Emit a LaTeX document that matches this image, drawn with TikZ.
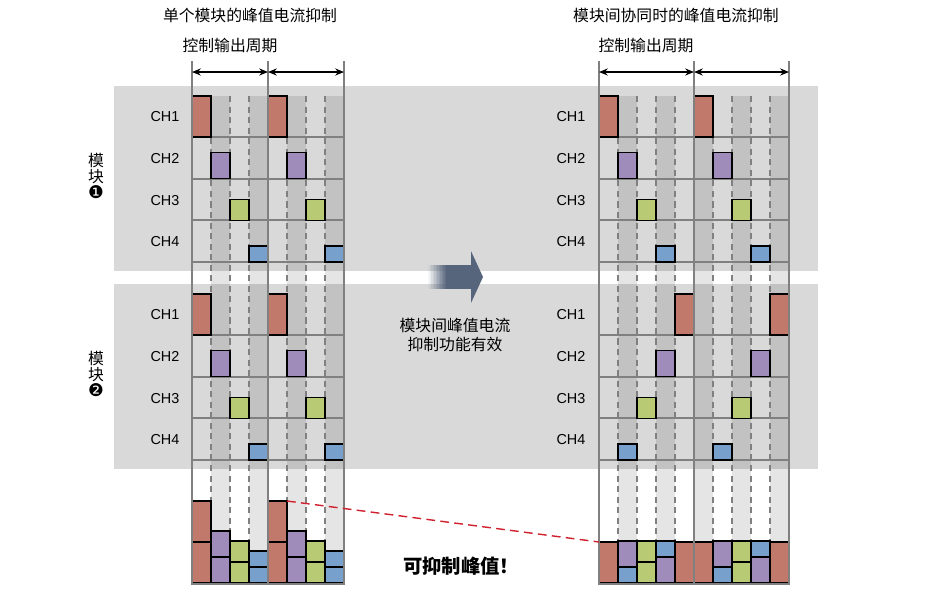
\documentclass[tikz,border=0pt]{standalone}
\usepackage{fontspec}
\setmainfont{Liberation Sans}
\newfontfamily\cjk{Noto Sans CJK SC}
\newfontfamily\dingfont{DejaVu Sans}
\usetikzlibrary{arrows.meta}

\definecolor{chred}{HTML}{C0796B}
\definecolor{chpurple}{HTML}{A08CBA}
\definecolor{chgreen}{HTML}{B8CB74}
\definecolor{chblue}{HTML}{78A0CC}
\definecolor{bandgray}{HTML}{D9D9D9}
\definecolor{linegray}{HTML}{808080}
\definecolor{arrowslate}{HTML}{56647C}
\definecolor{peakred}{HTML}{D0202E}

\begin{document}
\begin{tikzpicture}[x=0.02cm, y=-0.02cm,
    cjktext/.style={font=\cjk\fontsize{9}{11.3}\selectfont, align=center},
    chlabel/.style={font=\fontsize{8.2}{10}\selectfont},
    modlabel/.style={font=\cjk\fontsize{9}{9}\selectfont, align=center},
    pulse/.style={draw=black, line width=0.7pt},
    periodline/.style={draw=linegray, line width=1.1pt},
    slotline/.style={draw=linegray, line width=0.6pt, dash pattern=on 3.5pt off 2.5pt},
    rowline/.style={draw=linegray, line width=0.6pt},
    slotshade/.style={fill=black, opacity=0.1},
    cyclearrow/.style={{Stealth[length=5pt,width=4pt]}-{Stealth[length=5pt,width=4pt]}, line width=0.7pt},
    peakline/.style={draw=peakred, line width=0.8pt, dash pattern=on 5pt off 3pt}]
    \useasboundingbox (0,0) rectangle (944,603);

    % Module backgrounds
    \fill[bandgray] (114,86) rectangle (818,271);
    \fill[bandgray] (114,284) rectangle (818,469);

    % Shaded time slots
    \foreach \s in {1,3,5,7}
        \fill[slotshade] ({192+19*\s},96) rectangle ++(19,487);
    \foreach \s in {1,3,5,7,9}
        \fill[slotshade] ({599+19*\s},96) rectangle ++(19,487);

    % Channel row lines
    \foreach \dy in {0,198}
        \foreach \yy in {137,179,220,262} {
            \draw[rowline] (192,{\yy+\dy}) -- (344,{\yy+\dy});
            \draw[rowline] (599,{\yy+\dy}) -- (789,{\yy+\dy});
        }

    % Slot boundaries
    \foreach \s in {1,2,3,5,6,7}
        \draw[slotline] ({192+19*\s},96) -- ++(0,487);
    \foreach \s in {1,2,3,4,6,7,8,9}
        \draw[slotline] ({599+19*\s},96) -- ++(0,487);

    % Pulses, single module control (both modules alike)
    \foreach \dy in {0,198}
        \foreach \h/\col [count=\i from 0] in {41/chred,26/chpurple,21/chgreen,16/chblue}
            \foreach \p in {0,1}
                \draw[pulse, fill=\col] ({192+19*(4*\p+\i)},{137+41.67*\i+\dy}) rectangle ++(19,-\h);

    % Pulses, coordinated modules
    \foreach \h/\col [count=\i from 0] in {41/chred,26/chpurple,21/chgreen,16/chblue}
        \foreach \p in {0,1} {
            \draw[pulse, fill=\col] ({599+19*(5*\p+\i)},{137+41.67*\i}) rectangle ++(19,-\h);
            \draw[pulse, fill=\col] ({599+19*(5*\p+4-\i)},{335+41.67*\i}) rectangle ++(19,-\h);
        }

    % Summed current, left
    \foreach \h/\col [count=\i from 0] in {41/chred,26/chpurple,21/chgreen,16/chblue}
        \foreach \p in {0,1} {
            \draw[pulse, fill=\col] ({192+19*(4*\p+\i)},583) rectangle ++(19,-\h);
            \draw[pulse, fill=\col] ({192+19*(4*\p+\i)},{583-\h}) rectangle ++(19,-\h);
        }

    % Summed current, right
    \foreach \p in {0,1} {
        \foreach \s/\h/\col in {1/16/chblue,2/21/chgreen,3/26/chpurple,4/41/chred}
            \draw[pulse, fill=\col] ({599+19*(5*\p+\s)},583) rectangle ++(19,-\h);
        \foreach \s/\base/\h/\col in {0/583/41/chred,1/567/26/chpurple,2/562/21/chgreen,3/557/16/chblue}
            \draw[pulse, fill=\col] ({599+19*(5*\p+\s)},\base) rectangle ++(19,-\h);
    }
    \draw[periodline] (192,584) -- (344,584);
    \draw[periodline] (599,584) -- (789,584);

    % Period boundaries
    \foreach \x in {192,268,344}
        \draw[periodline] (\x,61) -- (\x,585);
    \foreach \x in {599,694,789}
        \draw[periodline] (\x,61) -- (\x,585);

    % Control period arrows
    \coordinate (L0) at (192,72);
    \coordinate (L1) at (268,72);
    \coordinate (L2) at (344,72);
    \coordinate (R0) at (599,72);
    \coordinate (R1) at (694,72);
    \coordinate (R2) at (789,72);
    \draw[cyclearrow] (L0) -- (L1);
    \draw[cyclearrow] (L1) -- (L2);
    \draw[cyclearrow] (R0) -- (R1);
    \draw[cyclearrow] (R1) -- (R2);

    % Titles
    \node[cjktext] (titleL) at (250,15) {单个模块的峰值电流抑制};
    \node[cjktext] (cycleL) at (230,46) {控制输出周期};
    \node[cjktext] (titleR) at (676,15) {模块间协同时的峰值电流抑制};
    \node[cjktext] (cycleR) at (646,46) {控制输出周期};

    % Channel labels
    \foreach \dy/\m in {0/a,198/b}
        \foreach \n [count=\i from 0] in {1,2,3,4} {
            \node[chlabel] (chL\n\m) at (165,{117+41.67*\i+\dy}) {CH\n};
            \node[chlabel] (chR\n\m) at (571,{117+41.67*\i+\dy}) {CH\n};
        }

    % Module labels
    \node[modlabel] (modA) at (96,176) {模\\块\\{\dingfont\fontsize{10}{9}\selectfont ❶}};
    \node[modlabel] (modB) at (96,374) {模\\块\\{\dingfont\fontsize{10}{9}\selectfont ❷}};

    % Transition arrow
    \foreach \k [evaluate=\k as \op using 0.06+0.08*\k] in {0,...,11}
        \fill[arrowslate, opacity=\op] ({428+1.5*\k},265) rectangle ++(1.5,24);
    \fill[arrowslate] (446,265) rectangle (471.5,289);
    \fill[arrowslate] (471,251) -- (483,277) -- (471,303) -- cycle;
    \node[cjktext] (note) at (455,335) {模块间峰值电流\\抑制功能有效};

    % Peak reduction
    \coordinate (peakL) at (287,501);
    \coordinate (peakR) at (599,542);
    \draw[peakline] (peakL) -- (peakR);
    \node[font=\cjk\bfseries\fontsize{11}{12}\selectfont] (peaknote) at (461,566) {可抑制峰值！};
\end{tikzpicture}
\end{document}
